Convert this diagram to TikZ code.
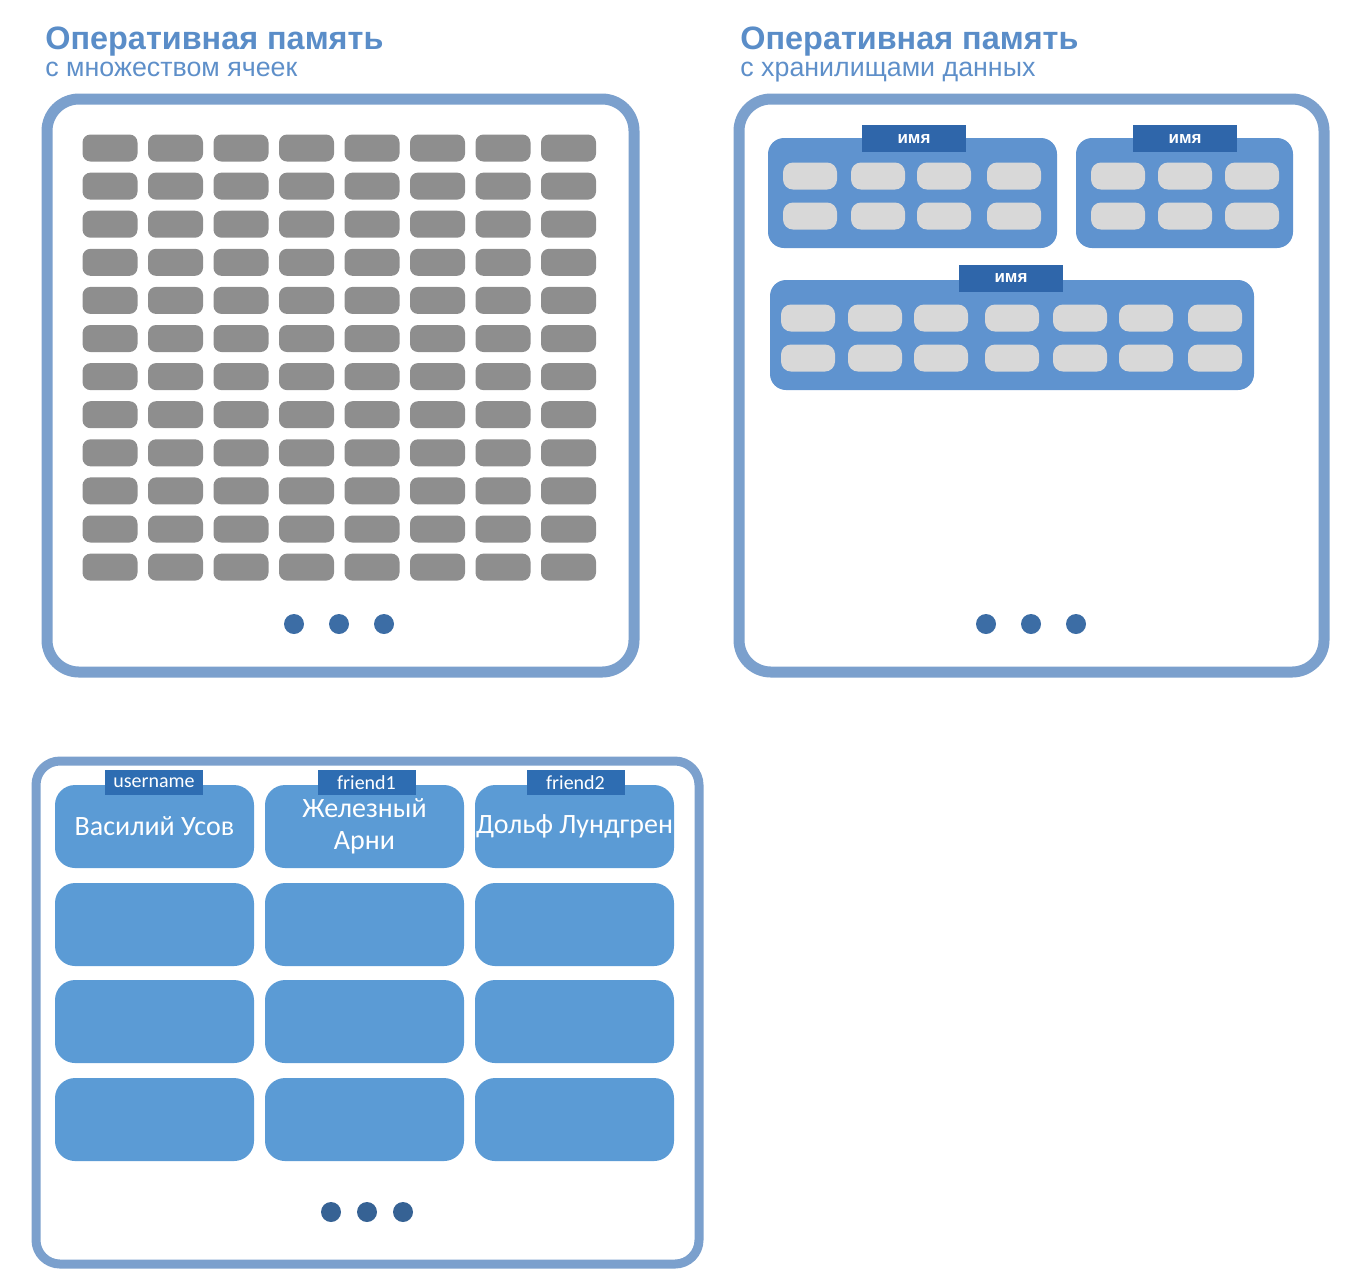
\documentclass[tikz,border=0pt]{standalone}
\usepackage{fontspec}
\setmainfont{Liberation Sans}
\newfontfamily\officefont{Carlito}

\definecolor{framecol}{HTML}{7BA0CD}
\definecolor{titlecol}{HTML}{5A8DC8}
\definecolor{subcol}{HTML}{5E8FC9}
\definecolor{graycol}{HTML}{8E8E8E}
\definecolor{storecol}{HTML}{5F93CF}
\definecolor{tagcol}{HTML}{2F66AA}
\definecolor{lightcol}{HTML}{D8D8D8}
\definecolor{dotcol}{HTML}{3C6DA5}
\definecolor{cellcol}{HTML}{5B9BD5}
\definecolor{celltagcol}{HTML}{2E6DB2}

\tikzset{
	panelframe/.style={draw=framecol, line width=5.5pt, rounded corners=16pt},
	headline/.style={anchor=base west, inner sep=0pt, text=titlecol, font=\fontsize{16.2}{18}\selectfont\bfseries},
	subline/.style={anchor=base west, inner sep=0pt, text=subcol, font=\fontsize{13.4}{15}\selectfont},
	graycell/.style={fill=graycol, rounded corners=4pt, minimum width=27.5pt, minimum height=13.5pt, inner sep=0pt},
	storebox/.style={fill=storecol, rounded corners=8pt, minimum height=55pt, inner sep=0pt},
	nametag/.style={fill=tagcol, text=white, minimum width=52pt, minimum height=13.5pt, inner sep=0pt, font=\fontsize{8.5}{9}\selectfont\bfseries},
	lightcell/.style={fill=lightcol, rounded corners=5pt, minimum width=27pt, minimum height=13.5pt, inner sep=0pt},
	moredot/.style={circle, fill=dotcol, minimum size=10pt, inner sep=0pt},
	bigcell/.style={fill=cellcol, rounded corners=10pt, minimum width=99.5pt, minimum height=41.5pt, inner sep=0pt, text=white, align=center, font=\officefont\fontsize{14}{16}\selectfont},
	celltag/.style={fill=celltagcol, text=white, minimum width=49pt, minimum height=12.5pt, inner sep=0pt, font=\officefont\fontsize{10}{11}\selectfont}
}

\begin{document}
\begin{tikzpicture}[x=0.5pt,y=-0.5pt]
	\useasboundingbox (0,0) rectangle (1358,1282);
	
	% Panel 1: many cells
	\node[headline] (head1) at (45,49) {Оперативная память};
	\node[subline] (sub1) at (45,76) {с множеством ячеек};
	\draw[panelframe] (47,99) rectangle (634,672);
	\foreach \c in {0,...,7}
		\foreach \r in {0,...,11}
			\node[graycell] (g-\r-\c) at ({110+65.5*\c},{148+38.1*\r}) {};
	\foreach \i in {0,1,2}
		\node[moredot] (dA\i) at ({294+45*\i},624) {};
	
	% Panel 2: named stores
	\node[headline] (head2) at (740,49) {Оперативная память};
	\node[subline] (sub2) at (740,76) {с хранилищами данных};
	\draw[panelframe] (739,99) rectangle (1324,672);
	
	\node[storebox, minimum width=144.5pt] (storeA) at (912.5,193) {};
	\node[storebox, minimum width=108.5pt] (storeB) at (1184.5,193) {};
	\node[storebox, minimum width=242pt] (storeC) at (1012,335) {};
	\node[nametag] (tagA) at (914,138.5) {имя};
	\node[nametag] (tagB) at (1185,138.5) {имя};
	\node[nametag] (tagC) at (1011,278) {имя};
	
	\foreach \x [count=\i] in {810,878,944,1014}
		\foreach \y [count=\j] in {176,216}
			\node[lightcell] (a-\j-\i) at (\x,\y) {};
	\foreach \x [count=\i] in {1118,1185,1252}
		\foreach \y [count=\j] in {176,216}
			\node[lightcell] (b-\j-\i) at (\x,\y) {};
	\foreach \x [count=\i] in {808,875,941,1012,1080,1146,1215}
		\foreach \y [count=\j] in {318,358}
			\node[lightcell] (c-\j-\i) at (\x,\y) {};
	\foreach \i in {0,1,2}
		\node[moredot] (dB\i) at ({986+45*\i},624) {};
	
	% Panel 3: keys and values
	\draw[panelframe, line width=4.5pt, rounded corners=12pt] (36,761) rectangle (699,1264);
	\node[bigcell] (user) at (154.5,826.5) {Василий Усов};
	\node[bigcell] (friendA) at (364.5,826.5) {Железный\\Арни};
	\node[bigcell] (friendB) at (574.5,826.5) {Дольф Лундгрен};
	\foreach \x [count=\i] in {154.5,364.5,574.5}
		\foreach \y [count=\j] in {924.5,1021.5,1119.5}
			\node[bigcell] (v-\j-\i) at (\x,\y) {};
	\node[celltag] (userkey) at (154,782.5) {username};
	\node[celltag] (friendAkey) at (366.5,782.5) {friend1};
	\node[celltag] (friendBkey) at (575.5,782.5) {friend2};
	\foreach \i in {0,1,2}
		\node[moredot, fill=dotcol!90!black] (dC\i) at ({331+36*\i},1212) {};
\end{tikzpicture}
\end{document}
